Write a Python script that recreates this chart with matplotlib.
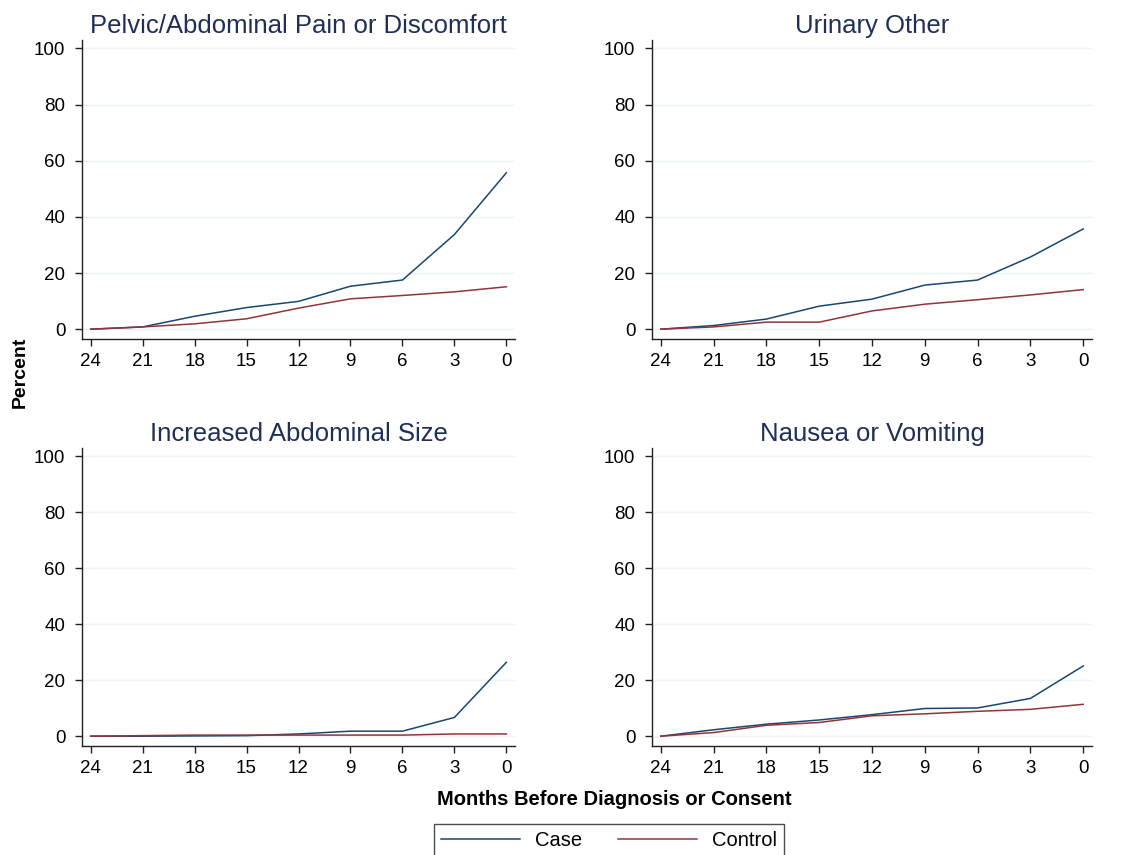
import numpy as np
import matplotlib
matplotlib.use("Agg")
import matplotlib.pyplot as plt
from matplotlib.lines import Line2D

plt.rcParams["font.family"] = ["Liberation Sans", "DejaVu Sans"]

months = [24, 21, 18, 15, 12, 9, 6, 3, 0]

titles = ["Pelvic/Abdominal Pain or Discomfort", "Urinary Other",
          "Increased Abdominal Size", "Nausea or Vomiting"]

# percent reporting each symptom, case vs control
case_pain = [0, 0.8, 4.6, 7.7, 9.9, 15.3, 17.5, 33.7, 55.7]
ctrl_pain = [0, 0.8, 1.9, 3.7, 7.5, 10.8, 12.0, 13.3, 15.1]
case_urin = [0, 1.3, 3.6, 8.2, 10.7, 15.7, 17.5, 25.7, 35.7]
ctrl_urin = [0, 0.8, 2.5, 2.5, 6.5, 8.9, 10.5, 12.2, 14.1]
case_size = [0, 0.0, 0.1, 0.2, 0.8, 1.8, 1.8, 6.7, 26.4]
ctrl_size = [0, 0.2, 0.4, 0.4, 0.4, 0.4, 0.4, 0.8, 0.8]
case_naus = [0, 2.3, 4.3, 5.8, 7.7, 9.9, 10.1, 13.5, 25.1]
ctrl_naus = [0, 1.3, 3.9, 4.9, 7.3, 8.0, 8.9, 9.6, 11.4]

cases = [case_pain, case_urin, case_size, case_naus]
ctrls = [ctrl_pain, ctrl_urin, ctrl_size, ctrl_naus]

navy = "#1a476f"
maroon = "#90353b"
title_col = "#1f2f55"

W, H = 1130, 855
fig = plt.figure(figsize=(W / 100, H / 100), dpi=100)

# panel boxes in pixels: left, right, bottom, top
boxes = [(82, 515, 339, 40), (652, 1092, 339, 40),
         (82, 515, 746, 448), (652, 1092, 746, 448)]

for i, (l, r, b, t) in enumerate(boxes):
    ax = fig.add_axes([l / W, 1 - b / H, (r - l) / W, (b - t) / H])
    ax.plot(months, cases[i], color=navy, lw=1.1)
    ax.plot(months, ctrls[i], color=maroon, lw=1.1)
    ax.set_xlim(24.5, -0.5)
    ax.set_ylim(-3.5, 103)
    ax.set_xticks(months)
    ax.set_yticks([0, 20, 40, 60, 80, 100])
    ax.grid(axis="y", color="#eaf2f3", lw=1.0)
    ax.set_axisbelow(True)
    for s in ("top", "right"):
        ax.spines[s].set_visible(False)
    for s in ("left", "bottom"):
        ax.spines[s].set_linewidth(1.0)
        ax.spines[s].set_color("#222222")
    ax.tick_params(axis="both", direction="out", length=5, width=1.0,
                   labelsize=13.5, color="#222222")
    ax.tick_params(axis="y", pad=7)
    ax.tick_params(axis="x", pad=5)
    ax.set_title(titles[i], fontsize=18.5, color=title_col, pad=5)

fig.text(20 / W, 1 - 372 / H, "Percent", rotation=90, fontsize=14,
         fontweight="bold", ha="center", va="center")
fig.text(614 / W, 1 - 799 / H, "Months Before Diagnosis or Consent",
         fontsize=14.5, fontweight="bold", ha="center", va="center")

handles = [Line2D([], [], color=navy, lw=1.1), Line2D([], [], color=maroon, lw=1.1)]
leg = fig.legend(handles, ["Case", "Control"], loc="upper center",
                 bbox_to_anchor=(609 / W, 1 - 824 / H), ncol=2, fontsize=14.5,
                 frameon=True, fancybox=False, handlelength=3.9,
                 columnspacing=1.8, borderpad=0.35, handletextpad=0.75,
                 borderaxespad=0)
leg.get_frame().set_edgecolor("#222222")
leg.get_frame().set_linewidth(1.0)

fig.savefig("out.png", dpi=100)
